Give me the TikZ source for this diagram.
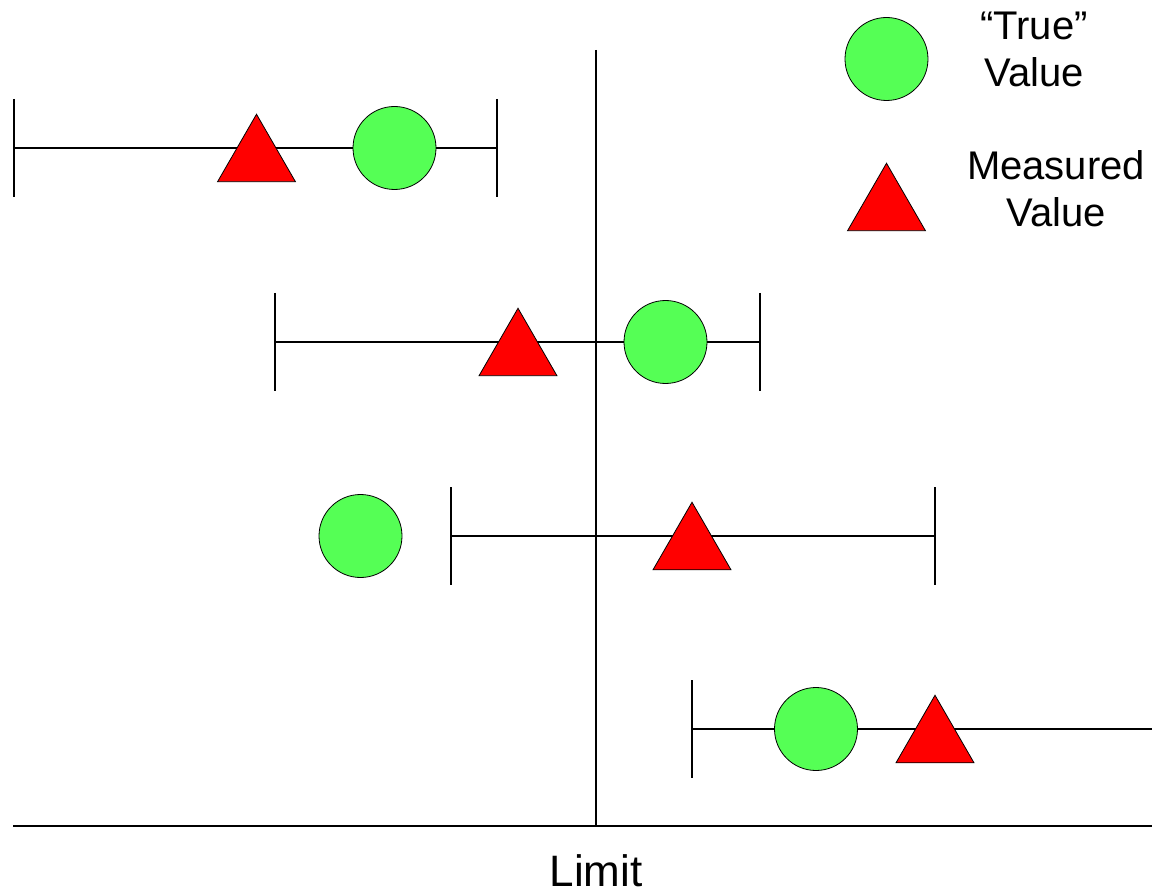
\documentclass[tikz,border=0pt]{standalone}
\usepackage{fontspec}
\setmainfont{Liberation Sans}
\usetikzlibrary{shapes.geometric}
\definecolor{trueGreen}{RGB}{85,255,85}
\definecolor{measRed}{RGB}{255,0,0}

\begin{document}
\begin{tikzpicture}[x=1pt,y=-1pt,
    barline/.style={line width=2.3pt},
    truept/.style={circle,draw,line width=0.8pt,fill=trueGreen,minimum size=83pt,inner sep=0pt},
    measpt/.style={regular polygon,regular polygon sides=3,draw,line width=0.8pt,fill=measRed,minimum size=90pt,inner sep=0pt,yshift=-11.25pt},
    lbl/.style={font=\fontsize{40}{47}\selectfont,align=center}]
\useasboundingbox (0,0) rectangle (1152,893);

%limit and axis
\coordinate (cLimTop) at (596,50);
\coordinate (cLimBot) at (596,826);
\coordinate (cAxL) at (13,826);
\coordinate (cAxR) at (1152,826);
\draw[barline] (cLimTop)--(cLimBot);
\draw[barline] (cAxL)--(cAxR);
\node[font=\fontsize{44}{50}\selectfont,anchor=base,inner sep=0pt] (limit) at (596,886) {Limit};

%error bars with both ends
\foreach \n/\y/\lx/\rx in {1/148/14/497, 2/342/275/760, 3/536/451/935}
{
    \begin{scope}[shift={(0,\y)}]
    \coordinate (cL\n) at (\lx,0);
    \coordinate (cR\n) at (\rx,0);
    \draw[barline] (cL\n)--(cR\n);
    \draw[barline] (\lx,-49)--(\lx,49);
    \draw[barline] (\rx,-49)--(\rx,49);
    \end{scope}
}

%last bar runs off the right side
\begin{scope}[shift={(0,729)}]
\coordinate (cL4) at (692,0);
\coordinate (cR4) at (1152,0);
\draw[barline] (cL4)--(cR4);
\draw[barline] (692,-49)--(692,49);
\end{scope}

%true and measured values
\foreach \n/\y/\tx/\mx in {1/148/394.5/256.5, 2/342/665.5/518, 3/536/360.5/692, 4/729/816/935}
{
    \node[truept] (true\n) at (\tx,\y) {};
    \node[measpt] (meas\n) at (\mx,\y) {};
}

%legend
\node[truept] (keyTrue) at (886.5,59) {};
\node[measpt] (keyMeas) at (886.5,197) {};
\node[lbl] (keyTrueTxt) at (1034,49) {“True”\\Value};
\node[lbl] (keyMeasTxt) at (1056,189) {Measured\\Value};

\end{tikzpicture}
\end{document}
